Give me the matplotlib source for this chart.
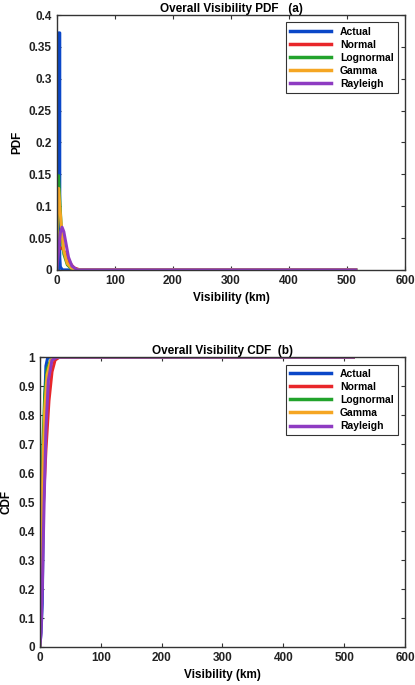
import matplotlib
matplotlib.use("Agg")
import matplotlib.pyplot as plt

plt.rcParams['font.family'] = ['Liberation Sans', 'DejaVu Sans']
plt.rcParams['font.weight'] = 'bold'
plt.rcParams['axes.labelweight'] = 'bold'
plt.rcParams['axes.titleweight'] = 'bold'

labels = ['Actual', 'Normal', 'Lognormal', 'Gamma', 'Rayleigh']
colors = ['#0a47c8', '#e8262a', '#22a32c', '#f5a623', '#8e3bc2']

# PDF curves
pdf_x = {
    'Actual':    [0, 3, 3, 5, 5, 6, 8, 10, 515],
    'Normal':    [0, 3, 6, 10, 15, 20, 25, 30, 40, 515],
    'Lognormal': [0, 1, 3, 5, 8, 12, 18, 25, 40, 515],
    'Gamma':     [0, 1, 3, 5, 8, 12, 18, 25, 35, 515],
    'Rayleigh':  [0, 3, 6, 9, 12, 16, 20, 26, 35, 515],
}
pdf_y = {
    'Actual':    [0, 0, 0.372, 0.372, 0.02, 0.005, 0.002, 0, 0],
    'Normal':    [0.03, 0.034, 0.035, 0.033, 0.025, 0.015, 0.008, 0.003, 0, 0],
    'Lognormal': [0, 0.10, 0.148, 0.11, 0.06, 0.025, 0.008, 0.002, 0, 0],
    'Gamma':     [0.02, 0.11, 0.128, 0.10, 0.065, 0.03, 0.01, 0.003, 0, 0],
    'Rayleigh':  [0, 0.03, 0.058, 0.067, 0.06, 0.04, 0.02, 0.006, 0, 0],
}

# CDF curves
cdf_x = {
    'Actual':    [0, 2, 4, 6, 8, 10, 13, 515],
    'Normal':    [0, 3, 6, 10, 15, 20, 25, 32, 515],
    'Lognormal': [0, 1, 3, 5, 8, 12, 18, 25, 515],
    'Gamma':     [0, 1, 3, 5, 8, 12, 18, 25, 515],
    'Rayleigh':  [0, 2, 4, 7, 10, 14, 20, 28, 515],
}
cdf_y = {
    'Actual':    [0, 0.05, 0.15, 0.5, 0.85, 0.97, 1, 1],
    'Normal':    [0.23, 0.36, 0.5, 0.68, 0.85, 0.95, 0.99, 1, 1],
    'Lognormal': [0, 0.1, 0.45, 0.7, 0.87, 0.96, 0.99, 1, 1],
    'Gamma':     [0, 0.1, 0.4, 0.62, 0.82, 0.94, 0.99, 1, 1],
    'Rayleigh':  [0, 0.05, 0.2, 0.5, 0.75, 0.92, 0.99, 1, 1],
}

fig = plt.figure(figsize=(4.15, 6.85), dpi=100)
ax1 = fig.add_axes([0.137, 0.606, 0.839, 0.372])
ax2 = fig.add_axes([0.096, 0.0555, 0.88, 0.423])

for lab, col in zip(labels, colors):
    ax1.plot(pdf_x[lab], pdf_y[lab], color=col, lw=2.2, label=lab)
    ax2.plot(cdf_x[lab], cdf_y[lab], color=col, lw=2.2, label=lab)

for ax in (ax1, ax2):
    ax.set_xlim(0, 600)
    ax.set_xticks(range(0, 601, 100))
    ax.set_xlabel('Visibility (km)', fontsize=8.5)
    ax.tick_params(direction='in', top=True, right=True, labelsize=8.5, length=3,
                   colors='#333333', labelcolor='#222222')
    for s in ax.spines.values():
        s.set_linewidth(1.0)
        s.set_color('#333333')
    leg = ax.legend(loc='upper right', fontsize=7.5, frameon=True, fancybox=False,
                    edgecolor='black', handlelength=4.0, borderpad=0.4, labelspacing=0.3,
                    borderaxespad=0.7)
    leg.get_frame().set_linewidth(0.8)
    for line in leg.get_lines():
        line.set_linewidth(2.5)

ax1.set_ylim(0, 0.4)
ax1.set_yticks([0, 0.05, 0.1, 0.15, 0.2, 0.25, 0.3, 0.35, 0.4])
ax1.set_yticklabels(['0', '0.05', '0.1', '0.15', '0.2', '0.25', '0.3', '0.35', '0.4'])
ax1.set_ylabel('PDF', fontsize=8.5)
ax1.set_title('Overall Visibility PDF   (a)', fontsize=8.5, pad=2)

ax2.set_ylim(0, 1)
ax2.set_yticks([i / 10 for i in range(11)])
ax2.set_yticklabels(['0'] + [f'{i/10:.1f}' for i in range(1, 10)] + ['1'])
ax2.set_ylabel('CDF', fontsize=8.5)
ax2.set_title('Overall Visibility CDF  (b)', fontsize=8.5, pad=2)

fig.savefig('out.png', dpi=100)
